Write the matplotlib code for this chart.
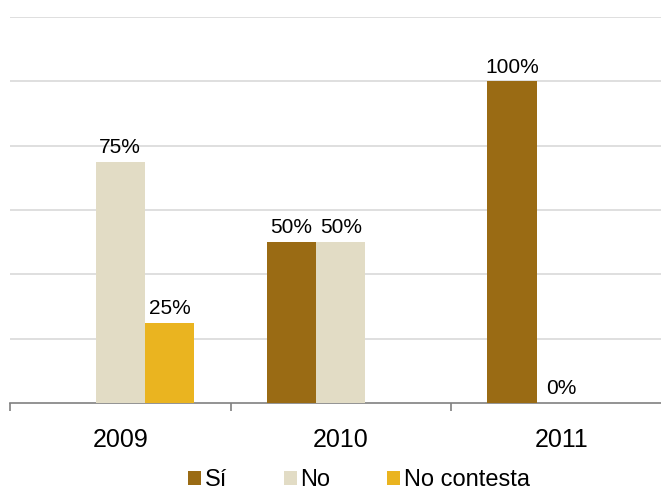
import matplotlib
matplotlib.use("Agg")
import matplotlib.pyplot as plt
import numpy as np

plt.rcParams["font.family"] = ["Liberation Sans", "DejaVu Sans"]

years = ["2009", "2010", "2011"]
series_names = ["Sí", "No", "No contesta"]
si_vals = [None, 50, 100]
no_vals = [75, 50, 0]
nc_vals = [25, None, None]
colors = ["#9A6B14", "#E2DCC5", "#EAB420"]


def main() -> None:
    fig = plt.figure(figsize=(6.61, 4.93), dpi=100)
    ax = fig.add_axes([10 / 661, 1 - 403 / 493, 661.5 / 661, (403 - 17) / 493])

    x = np.arange(len(years))
    width = 0.223
    all_series = [si_vals, no_vals, nc_vals]
    for i, (name, vals, col) in enumerate(zip(series_names, all_series, colors)):
        heights = [v if v is not None else 0 for v in vals]
        pos = x + (i - 1) * width
        ax.bar(pos, heights, width=width, color=col, label=name, zorder=3)
        for p, v in zip(pos, vals):
            if v is None:
                continue
            ax.text(p, v + 1.5, f"{v}%", ha="center", va="bottom", fontsize=15, zorder=4)

    ax.set_xlim(-0.5, 2.5)
    ax.set_ylim(0, 120)
    ax.set_yticks([20, 40, 60, 80, 100, 120])
    ax.yaxis.grid(True, color="#D9D9D9", linewidth=1.2, zorder=0)
    ax.tick_params(axis="y", left=False, labelleft=False)
    for s in ["top", "right", "left"]:
        ax.spines[s].set_visible(False)
    ax.spines["bottom"].set_color("#808080")
    ax.spines["bottom"].set_linewidth(1.2)

    ax.set_xticks([-0.5, 0.5, 1.5, 2.5])
    ax.set_xticklabels([])
    ax.set_xticks(x, minor=True)
    ax.set_xticklabels(years, minor=True, fontsize=18)
    ax.tick_params(axis="x", which="major", direction="out", length=6, color="#808080", width=1.2)
    ax.tick_params(axis="x", which="minor", length=0, pad=18)

    fig.legend(loc="lower center", bbox_to_anchor=(0.543, -0.04), ncol=3, frameon=False,
               fontsize=17, handlelength=0.55, handleheight=0.55, handletextpad=0.15,
               columnspacing=2.4)

    fig.savefig("out.png", dpi=100)
    plt.close(fig)


if __name__ == "__main__":
    main()
